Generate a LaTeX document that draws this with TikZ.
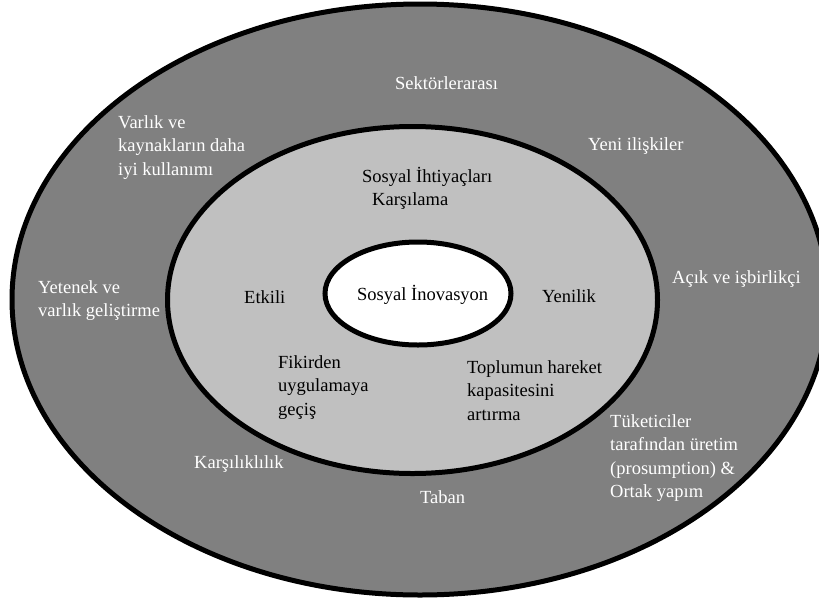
\documentclass[tikz,border=0pt]{standalone}
\usepackage{fontspec}
\setmainfont{Liberation Serif}
\usetikzlibrary{shapes.geometric}

\definecolor{outergray}{RGB}{128,128,128}
\definecolor{innergray}{RGB}{192,192,192}

\tikzset{
  ring/.style={ellipse, draw=black, line width=5pt, inner sep=0pt},
  lbl/.style={anchor=base west, inner sep=0pt,
    font=\fontsize{18.5}{23.5}\selectfont},
  onDark/.style={lbl, text=white},
  onLight/.style={lbl, text=black}
}

% multi-line label, aligned on the baseline of its first line
\newcommand{\lines}[1]{\begin{tabular}[t]{@{}l@{}}#1\end{tabular}}

\begin{document}
\begin{tikzpicture}[x=1pt, y=-1pt]
  \useasboundingbox (0,0) rectangle (819,603);
  \fill[white] (0,0) rectangle (819,603);

  % three nested rings
  \node[ring, fill=outergray, minimum width=816pt, minimum height=591pt]
    (outer) at (420,299.5) {};
  \node[ring, fill=innergray, minimum width=490pt, minimum height=347pt]
    (middle) at (412.5,300) {};
  \node[ring, fill=white, minimum width=186pt, minimum height=103pt]
    (core) at (418,293.5) {};

  % centre
  \node[onLight] (si) at (357,300) {Sosyal İnovasyon};

  % middle ring
  \node[onLight] (needs) at (362,182)
    {\lines{Sosyal İhtiyaçları\\\hspace*{10pt}Karşılama}};
  \node[onLight] (etkili) at (244,303) {Etkili};
  \node[onLight] (yenilik) at (542,302) {Yenilik};
  \node[onLight] (fikir) at (278,368)
    {\lines{Fikirden\\uygulamaya\\geçiş}};
  \node[onLight] (toplum) at (467,373)
    {\lines{Toplumun hareket\\kapasitesini\\artırma}};

  % outer ring
  \node[onDark] (sektor) at (395,89) {Sektörlerarası};
  \node[onDark] (varlik) at (118,128)
    {\lines{Varlık ve\\kaynakların daha\\iyi kullanımı}};
  \node[onDark] (yeni) at (588,150) {Yeni ilişkiler};
  \node[onDark] (yetenek) at (38,293)
    {\lines{Yetenek ve\\varlık geliştirme}};
  \node[onDark] (acik) at (672,283) {Açık ve işbirlikçi};
  \node[onDark] (tuket) at (610,427)
    {\lines{Tüketiciler\\tarafından üretim\\(prosumption) \&\\Ortak yapım}};
  \node[onDark] (karsi) at (194,468) {Karşılıklılık};
  \node[onDark] (taban) at (420,503) {Taban};
\end{tikzpicture}
\end{document}
